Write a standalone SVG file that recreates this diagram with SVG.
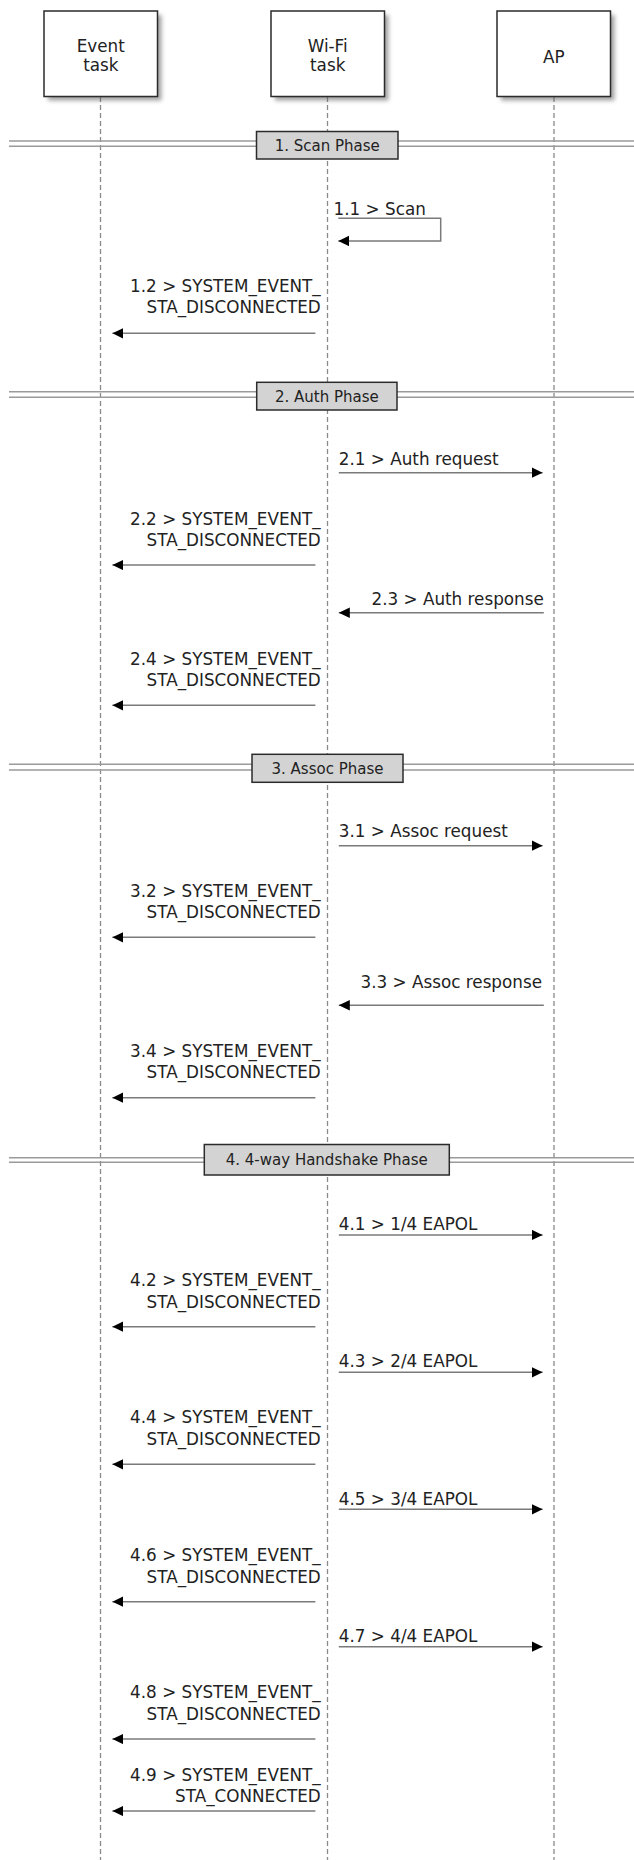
<svg xmlns="http://www.w3.org/2000/svg" width="634" height="1860" viewBox="0 0 634 1860">
<style>
  .actor { fill: #ffffff; stroke: #2b2b2b; stroke-width: 1.5; }
  .shadow { fill: #555555; opacity: 0.55; filter: url(#blur); }
  .lifeline { stroke: #8a8a8a; stroke-width: 1.3; stroke-dasharray: 5 3; fill: none; }
  .sepline { stroke: #9a9a9a; stroke-width: 1.4; }
  .sepbox { fill: #d3d3d3; stroke: #2b2b2b; stroke-width: 1.5; }
  .msg { stroke: #7a7a7a; stroke-width: 1.5; fill: none; marker-end: url(#arrow); }
  .label { font-family: "DejaVu Sans", "Liberation Sans", sans-serif; font-size: 16.8px; fill: #222222; }
  .end { text-anchor: end; }
  .mid { text-anchor: middle; }
  .phase { font-family: "DejaVu Sans", "Liberation Sans", sans-serif; font-size: 15px; fill: #222222; text-anchor: middle; }
</style>
<defs>
  <filter id="blur" x="-20%" y="-20%" width="140%" height="140%">
    <feGaussianBlur stdDeviation="2"/>
  </filter>
  <marker id="arrow" markerUnits="userSpaceOnUse" markerWidth="12" markerHeight="12" refX="11" refY="5.3" orient="auto">
    <path d="M0,0 L11,5.3 L0,10.6 z" fill="#000000"/>
  </marker>
</defs>
<rect width="634" height="1860" fill="#ffffff"/>

<g id="lifelines">
  <line class="lifeline" x1="100.5" y1="97" x2="100.5" y2="1860"/>
  <line class="lifeline" x1="327.5" y1="97" x2="327.5" y2="1860"/>
  <line class="lifeline" x1="554" y1="97" x2="554" y2="1860"/>
</g>

<g id="event_task">
  <rect class="shadow" x="48" y="15" width="113.5" height="85.5"/>
  <rect class="actor" x="44" y="11" width="113.5" height="85.5"/>
  <text class="label mid" x="100.8" y="52.3">Event</text>
  <text class="label mid" x="100.8" y="71">task</text>
</g>
<g id="wifi_task">
  <rect class="shadow" x="275" y="15" width="113.5" height="85.5"/>
  <rect class="actor" x="271" y="11" width="113.5" height="85.5"/>
  <text class="label mid" x="327.7" y="52.3">Wi-Fi</text>
  <text class="label mid" x="327.7" y="71">task</text>
</g>
<g id="ap">
  <rect class="shadow" x="501" y="15" width="113.5" height="85.5"/>
  <rect class="actor" x="497" y="11" width="113.5" height="85.5"/>
  <text class="label mid" x="553.8" y="63">AP</text>
</g>

<g id="phase1">
  <line class="sepline" x1="9" y1="141" x2="634" y2="141"/>
  <line class="sepline" x1="9" y1="146.3" x2="634" y2="146.3"/>
  <rect class="sepbox" x="256.5" y="131.5" width="141.5" height="27.5"/>
  <text class="phase" x="327.2" y="150.5">1. Scan Phase</text>
</g>
<g id="phase2">
  <line class="sepline" x1="9" y1="391.7" x2="634" y2="391.7"/>
  <line class="sepline" x1="9" y1="397.3" x2="634" y2="397.3"/>
  <rect class="sepbox" x="256.7" y="382.3" width="140.3" height="27.7"/>
  <text class="phase" x="326.9" y="401.5">2. Auth Phase</text>
</g>
<g id="phase3">
  <line class="sepline" x1="9" y1="764.3" x2="634" y2="764.3"/>
  <line class="sepline" x1="9" y1="770" x2="634" y2="770"/>
  <rect class="sepbox" x="252" y="754.3" width="151" height="28"/>
  <text class="phase" x="327.5" y="773.7">3. Assoc Phase</text>
</g>
<g id="phase4">
  <line class="sepline" x1="9" y1="1157.7" x2="634" y2="1157.7"/>
  <line class="sepline" x1="9" y1="1162.3" x2="634" y2="1162.3"/>
  <rect class="sepbox" x="204.3" y="1144.5" width="245" height="30.5"/>
  <text class="phase" x="326.8" y="1165">4. 4-way Handshake Phase</text>
</g>

<g id="connectors">
  <polyline class="msg" points="338.3,218.3 440.7,218.3 440.7,241 338.3,241"/>
  <text class="label" x="333.6" y="215">1.1 &gt; Scan</text>

  <line class="msg" x1="315.4" y1="333.3" x2="112.4" y2="333.3"/>
  <text class="label end" x="320.7" y="291.7">1.2 &gt; SYSTEM_EVENT_</text>
  <text class="label end" x="320.7" y="313.3">STA_DISCONNECTED</text>

  <line class="msg" x1="338.8" y1="472.7" x2="542.6" y2="472.7"/>
  <text class="label" x="338.8" y="465">2.1 &gt; Auth request</text>

  <line class="msg" x1="315.4" y1="565" x2="112.4" y2="565"/>
  <text class="label end" x="320.7" y="525">2.2 &gt; SYSTEM_EVENT_</text>
  <text class="label end" x="320.7" y="546">STA_DISCONNECTED</text>

  <line class="msg" x1="543.8" y1="612.7" x2="338.8" y2="612.7"/>
  <text class="label end" x="543.8" y="605">2.3 &gt; Auth response</text>

  <line class="msg" x1="315.4" y1="705.3" x2="112.4" y2="705.3"/>
  <text class="label end" x="320.7" y="665">2.4 &gt; SYSTEM_EVENT_</text>
  <text class="label end" x="320.7" y="686">STA_DISCONNECTED</text>

  <line class="msg" x1="338.8" y1="845.7" x2="542.6" y2="845.7"/>
  <text class="label" x="338.8" y="837.3">3.1 &gt; Assoc request</text>

  <line class="msg" x1="315.4" y1="937.3" x2="112.4" y2="937.3"/>
  <text class="label end" x="320.7" y="896.7">3.2 &gt; SYSTEM_EVENT_</text>
  <text class="label end" x="320.7" y="918.3">STA_DISCONNECTED</text>

  <line class="msg" x1="543.8" y1="1005.3" x2="338.8" y2="1005.3"/>
  <text class="label end" x="542" y="988.3">3.3 &gt; Assoc response</text>

  <line class="msg" x1="315.4" y1="1097.7" x2="112.4" y2="1097.7"/>
  <text class="label end" x="320.7" y="1056.7">3.4 &gt; SYSTEM_EVENT_</text>
  <text class="label end" x="320.7" y="1078.3">STA_DISCONNECTED</text>

  <line class="msg" x1="338.8" y1="1235" x2="542.6" y2="1235"/>
  <text class="label" x="338.8" y="1230">4.1 &gt; 1/4 EAPOL</text>

  <line class="msg" x1="315.4" y1="1326.7" x2="112.4" y2="1326.7"/>
  <text class="label end" x="320.7" y="1286">4.2 &gt; SYSTEM_EVENT_</text>
  <text class="label end" x="320.7" y="1307.7">STA_DISCONNECTED</text>

  <line class="msg" x1="338.8" y1="1372.3" x2="542.6" y2="1372.3"/>
  <text class="label" x="338.8" y="1367.3">4.3 &gt; 2/4 EAPOL</text>

  <line class="msg" x1="315.4" y1="1464.3" x2="112.4" y2="1464.3"/>
  <text class="label end" x="320.7" y="1423.3">4.4 &gt; SYSTEM_EVENT_</text>
  <text class="label end" x="320.7" y="1445">STA_DISCONNECTED</text>

  <line class="msg" x1="338.8" y1="1509.3" x2="542.6" y2="1509.3"/>
  <text class="label" x="338.8" y="1505">4.5 &gt; 3/4 EAPOL</text>

  <line class="msg" x1="315.4" y1="1601.7" x2="112.4" y2="1601.7"/>
  <text class="label end" x="320.7" y="1560.7">4.6 &gt; SYSTEM_EVENT_</text>
  <text class="label end" x="320.7" y="1582.7">STA_DISCONNECTED</text>

  <line class="msg" x1="338.8" y1="1646.7" x2="542.6" y2="1646.7"/>
  <text class="label" x="338.8" y="1642.3">4.7 &gt; 4/4 EAPOL</text>

  <line class="msg" x1="315.4" y1="1739" x2="112.4" y2="1739"/>
  <text class="label end" x="320.7" y="1698.3">4.8 &gt; SYSTEM_EVENT_</text>
  <text class="label end" x="320.7" y="1720">STA_DISCONNECTED</text>

  <line class="msg" x1="315.4" y1="1811" x2="112.4" y2="1811"/>
  <text class="label end" x="320.7" y="1781">4.9 &gt; SYSTEM_EVENT_</text>
  <text class="label end" x="320.7" y="1801.7">STA_CONNECTED</text>
</g>
</svg>
